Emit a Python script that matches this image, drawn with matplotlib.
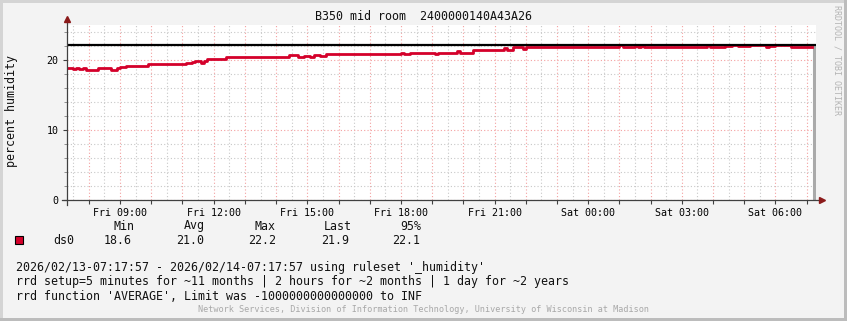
import matplotlib
matplotlib.use("Agg")
import matplotlib.pyplot as plt
import matplotlib.dates as mdates
from matplotlib.lines import Line2D
from matplotlib.patches import Rectangle
from datetime import datetime, timedelta

# data
start = datetime(2026, 2, 13, 7, 17, 57)
end = datetime(2026, 2, 14, 7, 17, 57)
hours = [0.0, 0.2, 0.3, 0.4, 0.5, 0.6, 1.0, 1.4, 1.6, 1.7, 1.9, 2.6, 3.8, 4.0, 4.1,
         4.3, 4.4, 4.5, 5.1, 5.2, 5.3, 7.1, 7.4, 7.6, 7.8, 7.9, 8.1, 8.3, 10.5, 10.7,
         10.8, 11.0, 11.8, 11.9, 12.5, 12.6, 13.0, 14.0, 14.1, 14.3, 14.6, 14.7, 17.7,
         17.8, 18.2, 18.3, 18.4, 18.5, 20.5, 20.6, 21.1, 21.3, 21.5, 21.9, 22.4, 22.5,
         22.7, 23.2, 23.86]
humidity = [18.9, 18.7, 18.8, 18.7, 18.8, 18.6, 18.9, 18.6, 18.8, 19.0, 19.2, 19.5, 19.6, 19.7, 19.8,
            19.6, 19.8, 20.1, 20.5, 20.4, 20.5, 20.7, 20.5, 20.6, 20.5, 20.7, 20.6, 20.8, 20.9, 21.0,
            20.9, 21.0, 20.9, 21.0, 21.3, 21.0, 21.5, 21.7, 21.5, 21.8, 21.6, 21.9, 22.1,
            21.9, 22.0, 21.9, 22.0, 21.9, 22.1, 21.9, 22.0, 22.1, 22.0, 22.1, 21.9, 22.0,
            22.1, 21.9, 21.9]
stat_names = ["Min", "Avg", "Max", "Last", "95%"]
stat_values = [18.6, 21.0, 22.2, 21.9, 22.1]
last_update_h = 23.93

title = "B350 mid room  2400000140A43A26"
footer_lines = ["2026/02/13-07:17:57 - 2026/02/14-07:17:57 using ruleset '_humidity'",
                "rrd setup=5 minutes for ~11 months | 2 hours for ~2 months | 1 day for ~2 years",
                "rrd function 'AVERAGE', Limit was -1000000000000000 to INF"]

W, H = 847, 321
mono = "DejaVu Sans Mono"
plt.rcParams['font.family'] = mono

fig = plt.figure(figsize=(W / 100, H / 100), dpi=100, facecolor="#f3f3f3")

def fx(x):
    return x / W

def fy(y):
    return 1 - y / H

# plot area 67..816 x 25..200 px
ax = fig.add_axes([fx(67), fy(200), (816 - 67) / W, 175 / H])
ax.set_facecolor("white")
times = [start + timedelta(hours=h) for h in hours]
ax.step(times, humidity, where="post", color="#d4002a", lw=2.0, zorder=3)
ax.axhline(stat_values[2], color="black", lw=1.6, zorder=4)
ax.plot([start + timedelta(hours=last_update_h)] * 2, [0, stat_values[2]],
        color="#aaaaaa", lw=2.2, zorder=2, solid_capstyle="butt")

ax.set_xlim(start, end)
ax.set_ylim(0, 25)

ax.xaxis.set_major_locator(mdates.HourLocator(interval=1))
ax.xaxis.set_minor_locator(mdates.MinuteLocator(byminute=[30]))
ax.xaxis.set_major_formatter(plt.FuncFormatter(
    lambda v, p: mdates.num2date(v).strftime("%a %H:%M") if mdates.num2date(v).hour % 3 == 0 else ""))
ax.set_yticks([0, 10, 20])
ax.set_yticks(range(0, 26, 2), minor=True)

ax.grid(which="major", color="#f4a0a0", ls=(0, (1, 2)), lw=0.8)
ax.grid(which="minor", color="#c8c8c8", ls=(0, (1, 2)), lw=0.8)
ax.set_axisbelow(True)
ax.tick_params(which="major", length=3, width=0.8, color="#404040", labelsize=7.2, pad=3)
ax.tick_params(which="minor", length=2, width=0.6, color="#808080")
ax.tick_params(axis="x", which="minor", length=0)
for s in ax.spines.values():
    s.set_visible(False)

# axis lines with arrows
fig.add_artist(Line2D([fx(62), fx(820)], [fy(200), fy(200)], color="#404040", lw=0.9))
fig.add_artist(Line2D([fx(67), fx(67)], [fy(205), fy(20)], color="#404040", lw=0.9))
fig.add_artist(Line2D([fx(822)], [fy(200)], marker=">", color="#8b1a1a", markersize=4, lw=0))
fig.add_artist(Line2D([fx(67)], [fy(19)], marker="^", color="#8b1a1a", markersize=4, lw=0))

fig.text(0.5, fy(17), title, ha="center", va="center", fontsize=8.4, color="#111111")
fig.text(fx(12), fy(111), "percent humidity", rotation=90, ha="center", va="center",
         fontsize=8.4, color="#111111")
fig.text(fx(837), fy(60), "RRDTOOL / TOBI OETIKER", rotation=270, ha="center", va="center",
         fontsize=6, color="#b4b4b4")

# legend block
head_x = [113, 184, 254, 324, 400]
val_x = [104, 176, 248, 321, 392]
for name, x in zip(stat_names, head_x):
    fig.text(fx(x), fy(226), name, ha="left", va="center", fontsize=8.4, color="#111111")
fig.add_artist(Rectangle((fx(15), fy(244)), 8 / W, 8 / H, facecolor="#d4002a",
                         edgecolor="black", lw=0.8))
fig.text(fx(53), fy(240), "ds0", ha="left", va="center", fontsize=8.4, color="#111111")
for v, x in zip(stat_values, val_x):
    fig.text(fx(x), fy(240), f"{v:.1f}", ha="left", va="center", fontsize=8.4, color="#111111")

for i, line in enumerate(footer_lines):
    fig.text(fx(16), fy(268 + 14 * i), line, ha="left", va="center", fontsize=8.4, color="#111111")
fig.text(0.5, fy(310), "Network Services, Division of Information Technology, University of Wisconsin at Madison",
         ha="center", va="center", fontsize=6.1, color="#a8a8a8")

# frame shading
fig.add_artist(Rectangle((0, fy(3)), 1, 3 / H, facecolor="#d4d4d4", lw=0))
fig.add_artist(Rectangle((0, 0), 3 / W, 1, facecolor="#d4d4d4", lw=0))
fig.add_artist(Rectangle((0, 0), 1, 3 / H, facecolor="#bcbcbc", lw=0))
fig.add_artist(Rectangle((1 - 3 / W, 0), 3 / W, 1, facecolor="#bcbcbc", lw=0))

fig.savefig("out.png", dpi=100, facecolor=fig.get_facecolor())
